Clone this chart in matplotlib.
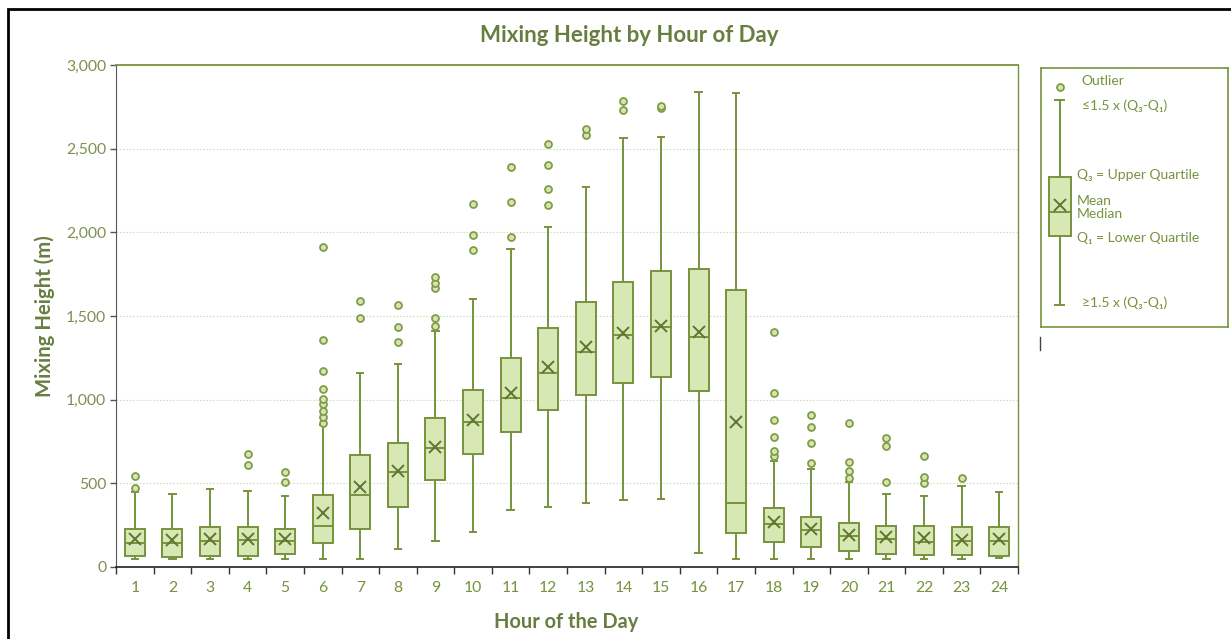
import numpy as np
import matplotlib
matplotlib.use("Agg")
import matplotlib.pyplot as plt
from matplotlib.ticker import FuncFormatter, FixedLocator
from matplotlib.patches import Rectangle
from matplotlib.lines import Line2D

plt.rcParams['font.family'] = ['Lato', 'DejaVu Sans']

hours = list(range(1, 25))
whislo = [48, 48, 48, 48, 48, 48, 48, 106, 154, 211, 341, 359, 382, 398, 408, 82,
          48, 48, 48, 48, 48, 48, 48, 56]
q1 = [68, 62, 68, 68, 78, 143, 227, 357, 520, 675, 807, 938, 1028, 1101, 1134, 1050,
      203, 151, 118, 94, 80, 72, 72, 64]
med = [142, 142, 155, 161, 155, 243, 430, 570, 709, 865, 1008, 1157, 1287, 1386, 1436, 1376,
       382, 255, 221, 185, 169, 151, 157, 157]
mean = [165, 161, 165, 165, 165, 321, 476, 574, 719, 878, 1042, 1193, 1313, 1400, 1442, 1406,
        869, 271, 225, 191, 177, 175, 161, 165]
q3 = [227, 227, 237, 237, 227, 430, 669, 743, 889, 1058, 1247, 1428, 1582, 1705, 1771, 1779,
      1655, 351, 301, 261, 245, 245, 237, 237]
whishi = [446, 438, 464, 456, 422, 847, 1157, 1215, 1410, 1600, 1900, 2032, 2269, 2562, 2570, 2841,
          2833, 635, 586, 510, 438, 424, 482, 448]
fliers = [[470, 542], [], [], [611, 673], [508, 570],
          [859, 898, 934, 974, 1006, 1062, 1171, 1358, 1912],
          [1488, 1591], [1343, 1436, 1564], [1440, 1486, 1667, 1699, 1733],
          [1893, 1984, 2171], [1970, 2179, 2392], [2161, 2257, 2402, 2526],
          [2582, 2619], [2729, 2783], [2742, 2752], [], [],
          [665, 695, 775, 877, 1040, 1403], [623, 741, 835, 908],
          [530, 574, 630, 861], [506, 725, 771], [500, 536, 665], [530], []]

yticks = [0, 500, 1000, 1500, 2000, 2500, 3000]

# legend key (illustrative box)
key_stats = dict(whislo=0.085, q1=0.351, med=0.444, mean=0.471, q3=0.579,
                 whishi=0.876, fliers=[0.927])

olive = '#77933c'
dark = '#5f7530'
fill = '#d8e8b4'
txt = '#76923c'

box_kw = dict(
    patch_artist=True, showmeans=True, meanline=False,
    boxprops=dict(facecolor=fill, edgecolor=olive, linewidth=1.4),
    medianprops=dict(color=olive, linewidth=1.4),
    whiskerprops=dict(color=olive, linewidth=1.4),
    capprops=dict(color=olive, linewidth=1.4),
    meanprops=dict(marker='x', markeredgecolor=dark, markersize=9, markeredgewidth=1.4),
    flierprops=dict(marker='o', markerfacecolor='#d6e6b0', markeredgecolor='#819c48',
                    markersize=5, markeredgewidth=1.3),
)

fig = plt.figure(figsize=(12.31, 6.39), dpi=100)

stats = []
for i in range(len(hours)):
    stats.append(dict(whislo=whislo[i], q1=q1[i], med=med[i], mean=mean[i], q3=q3[i],
                      whishi=whishi[i], fliers=fliers[i], label=str(hours[i])))

ax = fig.add_axes([116 / 1231, 1 - 567 / 639, 902 / 1231, 502 / 639])
ax.bxp(stats, positions=hours, widths=0.53, capwidths=0.17, **box_kw)

ax.set_xlim(0.5, 24.5)
ax.set_ylim(0, 3000)
ax.set_yticks(yticks)
ax.yaxis.set_major_formatter(FuncFormatter(lambda v, p: f"{int(v):,}"))
ax.grid(axis='y', linestyle=(0, (1.5, 1.5)), color='#d3dfb8', linewidth=0.8)
ax.set_axisbelow(True)

ax.set_xticks(hours)
ax.set_xticklabels([str(h) for h in hours])
ax.xaxis.set_minor_locator(FixedLocator(np.arange(0.5, 25, 1)))
ax.tick_params(axis='x', which='major', length=0, pad=10, labelsize=11.3, labelcolor=txt)
ax.tick_params(axis='x', which='minor', length=5, width=1, color='#333333')
ax.tick_params(axis='y', length=4, width=1, color='#555555', pad=3, labelsize=11.3,
               labelcolor='#7d9050')

ax.spines['top'].set_color(olive)
ax.spines['right'].set_color(olive)
ax.spines['top'].set_linewidth(1.3)
ax.spines['right'].set_linewidth(1.0)
ax.spines['left'].set_color('#555555')
ax.spines['bottom'].set_color('#222222')
ax.spines['bottom'].set_linewidth(1.2)

fig.text(629 / 1231, 1 - 35 / 639, "Mixing Height by Hour of Day", ha='center', va='center',
         fontsize=16, fontweight='bold', color='#687d3f')
fig.text(566 / 1231, 1 - 622 / 639, "Hour of the Day", ha='center', va='center',
         fontsize=14.4, fontweight='bold', color='#687d3f')
fig.text(45 / 1231, 1 - 316 / 639, "Mixing Height (m)", ha='center', va='center',
         rotation=90, fontsize=14.6, fontweight='bold', color='#687d3f')

# key box on the right
lax = fig.add_axes([1041 / 1231, 1 - 327 / 639, 187 / 1231, 259 / 639])
lax.bxp([key_stats], positions=[0.1], widths=0.118, capwidths=0.05, **box_kw)
lax.set_xlim(0, 1)
lax.set_ylim(0, 1)
lax.set_xticks([])
lax.set_yticks([])
for s in lax.spines.values():
    s.set_color(olive)
    s.set_linewidth(1.2)

kfs = 10
lax.text(0.215, 0.95, "Outlier", fontsize=kfs, color=txt, va='center')
lax.text(0.22, 0.855, "≤1.5 x (Q₃-Q₁)", fontsize=kfs, color=txt, va='center')
lax.text(0.19, 0.585, "Q₃ = Upper Quartile", fontsize=kfs, color=txt, va='center')
lax.text(0.19, 0.488, "Mean", fontsize=kfs, color=txt, va='center')
lax.text(0.19, 0.435, "Median", fontsize=kfs, color=txt, va='center')
lax.text(0.19, 0.345, "Q₁ = Lower Quartile", fontsize=kfs, color=txt, va='center')
lax.text(0.22, 0.095, "≥1.5 x (Q₃-Q₁)", fontsize=kfs, color=txt, va='center')

# small bar under the key and the outer frame
fig.add_artist(Line2D([1040 / 1231, 1040 / 1231], [1 - 337 / 639, 1 - 350 / 639],
                      color='#444444', linewidth=1))
fig.add_artist(Rectangle((8 / 1231, -0.1), 1.2, 1.1 - 9 / 639, fill=False,
                         edgecolor='black', linewidth=2, transform=fig.transFigure))

fig.savefig("out.png", dpi=100)
